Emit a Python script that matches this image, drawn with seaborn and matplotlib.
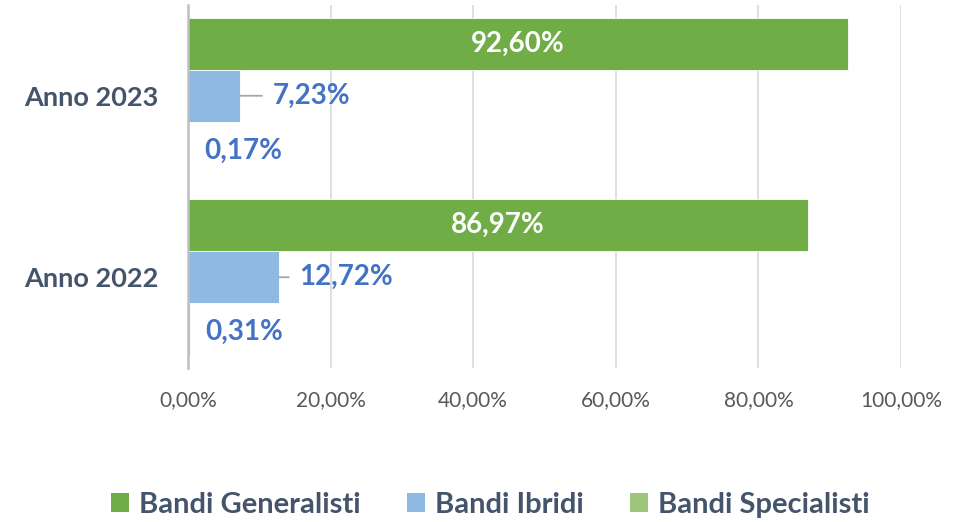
import matplotlib
matplotlib.use("Agg")
import matplotlib.pyplot as plt
import seaborn as sns
import pandas as pd
from matplotlib.patches import Patch

categories = ["Anno 2023", "Anno 2022"]
series = ["Bandi Generalisti", "Bandi Ibridi", "Bandi Specialisti"]
generalisti = [92.60, 86.97]
ibridi = [7.23, 12.72]
specialisti = [0.17, 0.31]
xticks = [0, 20, 40, 60, 80, 100]

colors = ["#70AD47", "#8DB9E2", "#9DC67B"]
text_dark = "#44546A"
label_blue = "#4472C4"

rows = []
for cat, g, i, s in zip(categories, generalisti, ibridi, specialisti):
    rows.append((cat, series[0], g))
    rows.append((cat, series[1], i))
    rows.append((cat, series[2], s))
df = pd.DataFrame(rows, columns=["anno", "serie", "valore"])

sns.set_style("white")
plt.rcParams["font.family"] = ["Lato", "DejaVu Sans"]

fig = plt.figure(figsize=(9.67, 5.22), dpi=100)
ax = fig.add_axes([188 / 967, 1 - 368 / 522, (901 - 188) / 967, (368 - 5) / 522])

sns.barplot(data=df, y="anno", x="valore", hue="serie", order=categories,
            hue_order=series, palette=colors, saturation=1, orient="h",
            width=0.86, gap=0, edgecolor="white", linewidth=0.6, ax=ax,
            legend=False, errorbar=None)

ax.set_xlim(0, 100)
ax.set_ylim(1.5, -0.5)
ax.set_xticks(xticks)
ax.set_xticklabels([f"{v:.2f}".replace(".", ",") + "%" for v in xticks],
                   fontsize=15, color="#595959")
ax.tick_params(axis="x", length=0, pad=16)
ax.tick_params(axis="y", length=0, pad=21)
for t in ax.get_yticklabels():
    t.set_fontsize(19.5)
    t.set_fontweight("bold")
    t.set_color(text_dark)
ax.set_xlabel("")
ax.set_ylabel("")
ax.grid(axis="x", color="#D9D9D9", linewidth=1.2)
ax.set_axisbelow(True)
for sp in ["top", "right", "bottom"]:
    ax.spines[sp].set_visible(False)
ax.spines["left"].set_color("#BFBFBF")
ax.spines["left"].set_linewidth(1.8)
ax.spines["left"].set_zorder(5)

def fmt(v):
    return f"{v:.2f}".replace(".", ",") + "%"

containers = ax.containers
# Generalisti: centered white labels
for bar, v in zip(containers[0], generalisti):
    yc = bar.get_y() + bar.get_height() / 2
    ax.text(v / 2, yc, fmt(v), ha="center", va="center", color="white",
            fontsize=20, fontweight="bold")

# Ibridi: outside with leader line
ibr_offsets = [24.0, 15.0]
for bar, v, off in zip(containers[1], ibridi, ibr_offsets):
    yc = bar.get_y() + bar.get_height() / 2
    ax.annotate(fmt(v), xy=(v, yc), xytext=(off, 0), textcoords="offset points",
                ha="left", va="center", color=label_blue, fontsize=20,
                fontweight="bold",
                arrowprops=dict(arrowstyle="-", color="#A6A6A6", lw=1.3,
                                shrinkA=5.5, shrinkB=0, relpos=(0, 0.5)))

# Specialisti: outside
for bar, v in zip(containers[2], specialisti):
    yc = bar.get_y() + bar.get_height() / 2
    ax.annotate(fmt(v), xy=(v, yc), xytext=(11, -2), textcoords="offset points",
                ha="left", va="center", color=label_blue, fontsize=20,
                fontweight="bold")

handles = [Patch(facecolor=c, edgecolor="none") for c in colors]
leg = fig.legend(handles, series, loc="center", bbox_to_anchor=(0.507, 0.033),
                 ncol=3, frameon=False, handlelength=0.6,
                 handleheight=0.6, handletextpad=0.35, columnspacing=1.6,
                 prop={"weight": "bold", "size": 21})
for t in leg.get_texts():
    t.set_color(text_dark)

fig.savefig("out.png", dpi=100)
